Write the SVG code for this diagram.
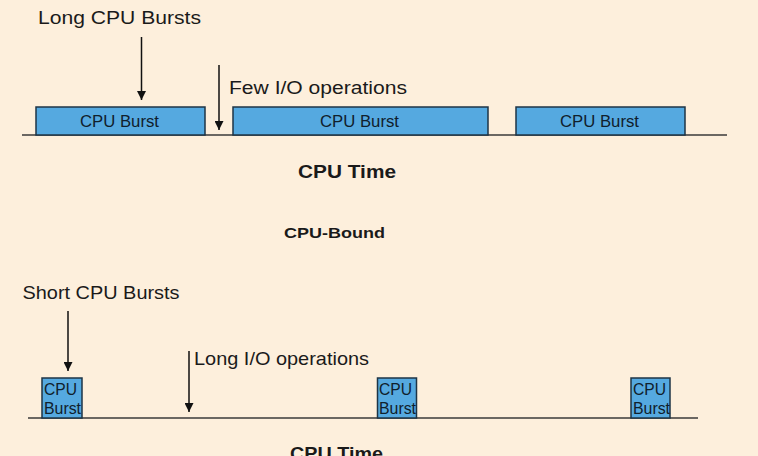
<svg xmlns="http://www.w3.org/2000/svg" width="758" height="456" viewBox="0 0 758 456">
<defs>
<marker id="ah" viewBox="0 0 10 10" refX="10" refY="5" markerWidth="9" markerHeight="9" markerUnits="userSpaceOnUse" orient="auto">
<path d="M0,0 L10,5 L0,10 Z" fill="#111"/>
</marker>
</defs>
<style>
text{font-family:"Liberation Sans",Arial,sans-serif;fill:#1a1a1a}
.lbl{font-size:17.5px}
.lbl2{font-size:19px}
.box{fill:#55a9e0;stroke:#1e3445;stroke-width:1.5}
.bt{font-size:16.5px;fill:#10202c}
.st{font-size:17px;fill:#10202c}
.bold{font-weight:bold}
.ax{stroke:#3a3a3a;stroke-width:1.5}
.arr{stroke:#111;stroke-width:1.5;marker-end:url(#ah)}
</style>
<rect width="758" height="456" fill="#fdefdc"/>
<g id="connectors">
<line class="ax" x1="22" y1="135" x2="727" y2="135"/>
<line class="ax" x1="28" y1="418" x2="698" y2="418"/>
<line class="arr" x1="141.5" y1="37" x2="141.5" y2="100"/>
<line class="arr" x1="219" y1="65" x2="219" y2="130"/>
<line class="arr" x1="68" y1="311" x2="68" y2="371"/>
<line class="arr" x1="189" y1="351" x2="189" y2="412"/>
</g>
<g id="label-long-cpu"><text class="lbl" x="38" y="24" textLength="163" lengthAdjust="spacingAndGlyphs">Long CPU Bursts</text></g>
<g id="label-few-io"><text class="lbl" x="229" y="94" textLength="178" lengthAdjust="spacingAndGlyphs">Few I/O operations</text></g>
<g id="burst1"><rect class="box" x="36" y="107" width="169" height="28"/><text class="bt" x="80" y="127" textLength="79" lengthAdjust="spacingAndGlyphs">CPU Burst</text></g>
<g id="burst2"><rect class="box" x="233" y="107" width="255" height="28"/><text class="bt" x="320" y="127" textLength="79" lengthAdjust="spacingAndGlyphs">CPU Burst</text></g>
<g id="burst3"><rect class="box" x="516" y="107" width="169" height="28"/><text class="bt" x="560" y="127" textLength="79" lengthAdjust="spacingAndGlyphs">CPU Burst</text></g>
<g id="label-cpu-time-1"><text class="bold" x="298" y="178" font-size="18" textLength="98" lengthAdjust="spacingAndGlyphs">CPU Time</text></g>
<g id="label-cpu-bound"><text class="bold" x="284" y="238" font-size="15" textLength="101" lengthAdjust="spacingAndGlyphs">CPU-Bound</text></g>
<g id="label-short-cpu"><text class="lbl2" x="22.5" y="299" textLength="157" lengthAdjust="spacingAndGlyphs">Short CPU Bursts</text></g>
<g id="label-long-io"><text class="lbl2" x="194" y="365" textLength="175" lengthAdjust="spacingAndGlyphs">Long I/O operations</text></g>
<g id="sburst1"><rect class="box" x="42" y="378" width="40" height="40"/><text class="st" x="44" y="395" textLength="33" lengthAdjust="spacingAndGlyphs">CPU</text><text class="st" x="44" y="414" textLength="37" lengthAdjust="spacingAndGlyphs">Burst</text></g>
<g id="sburst2"><rect class="box" x="377.5" y="378" width="39" height="40"/><text class="st" x="379" y="395" textLength="33" lengthAdjust="spacingAndGlyphs">CPU</text><text class="st" x="379" y="414" textLength="37" lengthAdjust="spacingAndGlyphs">Burst</text></g>
<g id="sburst3"><rect class="box" x="631" y="378" width="39" height="40"/><text class="st" x="633" y="395" textLength="33" lengthAdjust="spacingAndGlyphs">CPU</text><text class="st" x="633" y="414" textLength="37" lengthAdjust="spacingAndGlyphs">Burst</text></g>
<g id="label-cpu-time-2"><text class="bold" x="290" y="460" font-size="18" textLength="93" lengthAdjust="spacingAndGlyphs">CPU Time</text></g>
</svg>
